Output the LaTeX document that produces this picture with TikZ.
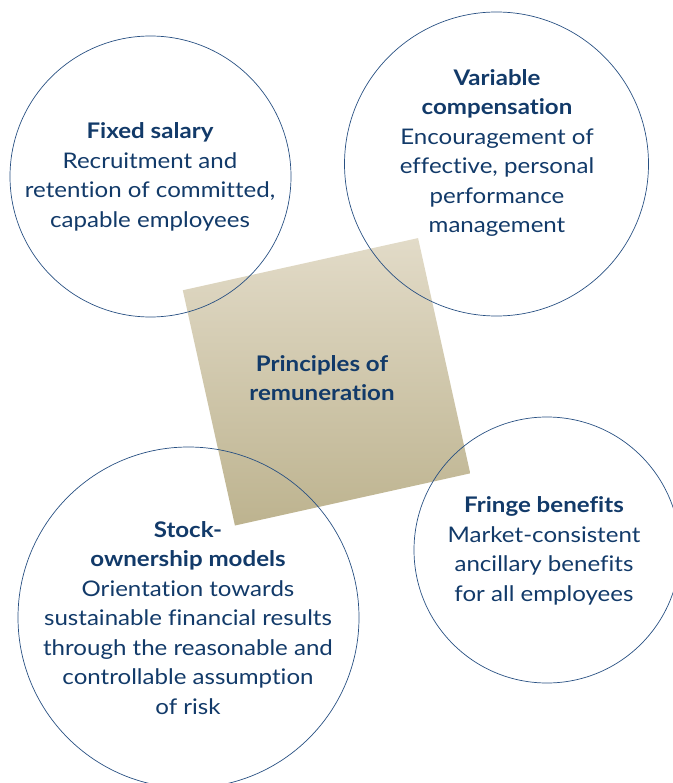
\documentclass[tikz,border=0pt]{standalone}
\usepackage{fontspec}
\setmainfont{Lato}[FakeStretch=1.12,Ligatures={NoCommon,NoDiscretionary}]
\definecolor{navy}{RGB}{18,58,105}
\definecolor{ringc}{RGB}{40,80,130}
\definecolor{sqlight}{RGB}{226,219,200}
\definecolor{sqdark}{RGB}{189,179,143}
\begin{document}
\begin{tikzpicture}[x=1pt,y=-1pt,
  ring/.style={draw=ringc,line width=0.7pt,circle,inner sep=0pt},
  txt/.style={text=navy,align=center,font=\fontsize{21.5}{29.5}\selectfont,inner sep=0pt},
  sq/.style={rectangle,minimum size=241pt,inner sep=0pt,rotate=12.5,top color=sqlight,bottom color=sqdark,shading angle=0}]
\useasboundingbox (0,0) rectangle (672,783);
\node[sq] (square) at (326.5,381.8) {};
\node[ring,minimum size=281pt] (c1) at (150.5,176.5) {};
\node[ring,minimum size=304pt] (c2) at (496.5,164) {};
\node[ring,minimum size=341pt] (c3) at (188.5,617.5) {};
\node[ring,minimum size=266pt] (c4) at (547,550) {};
\node[txt] (t0) at (322,378) {\textbf{Principles of}\\\textbf{remuneration}};
\node[txt] (t1) at (150,177) {\textbf{Fixed salary}\\Recruitment and\\retention of committed,\\capable employees};
\node[txt] (t2) at (497,153) {\textbf{Variable}\\\textbf{compensation}\\Encouragement of\\effective, personal\\performance\\management};
\node[txt] (t3) at (188,618) {\textbf{Stock-}\\\textbf{ownership models}\\Orientation towards\\sustainable financial results\\through the reasonable and\\controllable assumption\\of risk};
\node[txt] (t4) at (544,551) {\textbf{Fringe benefits}\\Market-consistent\\ancillary benefits\\for all employees};
\end{tikzpicture}
\end{document}
